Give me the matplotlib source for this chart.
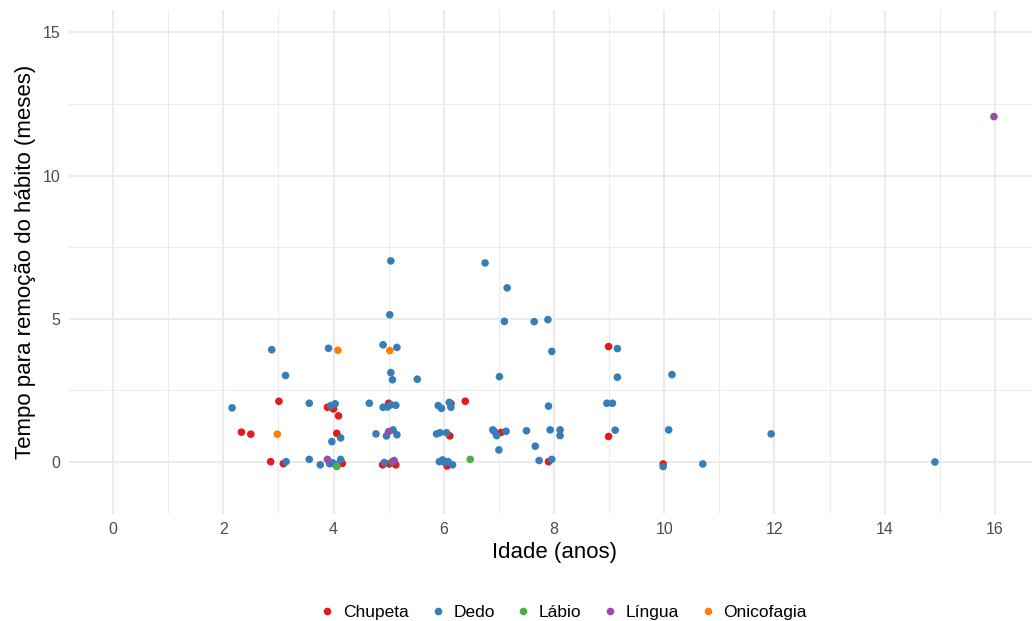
import matplotlib
matplotlib.use("Agg")
import matplotlib.pyplot as plt
from matplotlib.lines import Line2D

plt.rcParams['font.family'] = ['Liberation Sans', 'DejaVu Sans']

categories = ["Chupeta", "Dedo", "Lábio", "Língua", "Onicofagia"]
colors = ["#E41A1C", "#377EB8", "#4DAF4A", "#984EA3", "#FF7F00"]

chupeta_x = [2.33, 2.50, 2.86, 3.09, 3.01, 3.89, 4.00, 4.09, 4.06, 4.16, 5.00, 4.89, 5.01, 5.13,
             6.13, 6.11, 6.06, 6.39, 7.04, 7.90, 8.99, 8.99, 9.98]
chupeta_y = [1.04, 0.97, 0.01, -0.06, 2.12, 1.91, 1.85, 1.61, 1.00, -0.05, 2.05, -0.10, -0.07, -0.10,
             2.04, 0.91, -0.14, 2.12, 1.03, 0.01, 4.03, 0.89, -0.07]

dedo_x = [2.16, 2.88, 3.13, 3.14, 3.56, 3.56, 3.76, 3.91, 3.95, 4.03, 3.97, 4.13, 3.93, 3.98, 4.03,
          4.13, 4.65, 4.77, 4.90, 5.15, 5.04, 5.02, 5.04, 5.07, 5.52, 4.90, 4.98, 5.04, 5.13, 4.96,
          5.08, 5.15, 4.92, 5.07, 5.90, 5.96, 6.10, 6.13, 5.87, 5.93, 6.05, 5.92, 5.98, 6.02, 6.08,
          6.16, 6.75, 7.15, 7.10, 7.64, 7.89, 7.96, 9.15, 7.01, 9.15, 10.14, 7.90, 8.96, 9.06, 6.89,
          6.92, 6.96, 7.13, 7.50, 7.93, 8.11, 8.11, 9.11, 10.08, 7.00, 7.66, 7.73, 7.96, 9.98, 10.70,
          11.94, 14.91]
dedo_y = [1.89, 3.92, 3.02, 0.01, 2.05, 0.09, -0.10, 3.97, 1.97, 2.03, 0.71, 0.84, -0.06, -0.03, -0.08,
          0.09, 2.05, 0.98, 4.09, 4.00, 7.02, 5.14, 3.12, 2.87, 2.89, 1.91, 1.92, 2.00, 1.98, 0.91,
          1.12, 0.95, -0.02, 0.01, 1.97, 1.87, 2.08, 1.91, 0.98, 1.02, 1.02, 0.01, 0.07, -0.02, 0.01,
          -0.10, 6.95, 6.08, 4.91, 4.90, 4.97, 3.86, 3.96, 2.98, 2.96, 3.05, 1.95, 2.05, 2.05, 1.12,
          1.06, 0.92, 1.07, 1.09, 1.12, 1.12, 0.92, 1.11, 1.12, 0.42, 0.55, 0.05, 0.09, -0.16, -0.07,
          0.98, 0.00]

labio_x = [4.06, 6.48]
labio_y = [-0.16, 0.09]

lingua_x = [3.89, 5.10, 5.00, 15.98]
lingua_y = [0.09, 0.05, 1.06, 12.06]

onicofagia_x = [4.08, 5.02, 2.98]
onicofagia_y = [3.90, 3.89, 0.97]

series_x = [chupeta_x, dedo_x, labio_x, lingua_x, onicofagia_x]
series_y = [chupeta_y, dedo_y, labio_y, lingua_y, onicofagia_y]

x_ticks = [0, 2, 4, 6, 8, 10, 12, 14, 16]
y_ticks = [0, 5, 10, 15]

W, H = 1032, 621
fig = plt.figure(figsize=(W / 100, H / 100), dpi=100)
left, right, top, bottom = 68.9, 1039.1, 9.5, 513.5
ax = fig.add_axes([left / W, 1 - bottom / H, (right - left) / W, (bottom - top) / H])

ax.set_xlim(-0.8, 16.8)
ax.set_ylim(-1.8, 15.8)

for xm in range(1, 17, 2):
    ax.axvline(xm, color="#EBEBEB", lw=0.75, zorder=0)
for ym in [2.5, 7.5, 12.5]:
    ax.axhline(ym, color="#EBEBEB", lw=0.75, zorder=0)
for xt in x_ticks:
    ax.axvline(xt, color="#EBEBEB", lw=1.5, zorder=0)
for yt in y_ticks:
    ax.axhline(yt, color="#EBEBEB", lw=1.5, zorder=0)

for xs, ys, c in zip(series_x, series_y, colors):
    ax.scatter(xs, ys, s=30, color=c, edgecolors="none", zorder=3)

ax.set_xticks(x_ticks)
ax.set_yticks(y_ticks)
ax.set_xticklabels([str(v) for v in x_ticks])
ax.set_yticklabels([str(v) for v in y_ticks])
ax.tick_params(length=0, labelsize=11.5, colors="#4D4D4D", pad=6)
for s in ax.spines.values():
    s.set_visible(False)

ax.set_xlabel("Idade (anos)", fontsize=16, color="black", labelpad=4)
ax.set_ylabel("Tempo para remoção do hábito (meses)", fontsize=16, color="black", labelpad=5)

handles = [Line2D([], [], marker="o", linestyle="none", markersize=5.5, markerfacecolor=c,
                  markeredgecolor="none") for c in colors]
fig.legend(handles, categories, loc="center", bbox_to_anchor=(562 / W, 1 - 612 / H), ncol=5,
           frameon=False, fontsize=12.5, handletextpad=0.3, columnspacing=1.05, handlelength=1.2)

fig.savefig("out.png", dpi=100)
